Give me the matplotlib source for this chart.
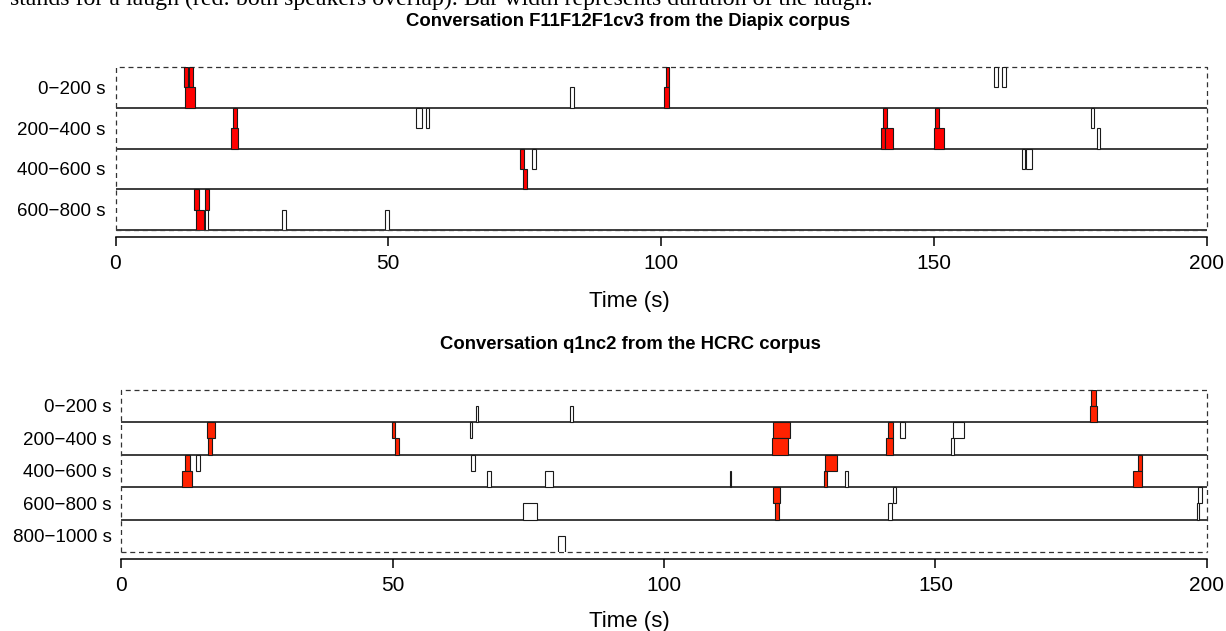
import numpy as np
import matplotlib
matplotlib.use('Agg')
import matplotlib.pyplot as plt

plt.rcParams['font.family'] = ['Liberation Sans', 'DejaVu Sans']

# laughs, Diapix conversation: start/end in s, speaker (0 = upper half, 1 = lower half), both = overlap
dpx_start = [12.6, 13.5, 12.8, 83.4, 100.9, 100.5, 161.0, 162.5,
             221.5, 221.1, 255.1, 256.9, 340.75, 340.3, 341.0, 350.3, 350.0, 378.75, 379.9,
             474.2, 476.4, 474.65, 566.2, 567.0,
             614.3, 616.4, 614.8, 616.4, 630.6, 649.4]
dpx_end = [13.2, 14.2, 14.5, 84.1, 101.4, 101.5, 161.7, 163.2,
           222.2, 222.5, 256.2, 257.5, 341.4, 341.0, 342.5, 350.9, 351.8, 379.3, 380.4,
           474.8, 477.0, 475.4, 566.7, 568.1,
           615.3, 617.2, 616.25, 616.9, 631.2, 650.1]
dpx_spk = [0, 0, 1, 1, 0, 1, 0, 0,
           0, 1, 0, 0, 0, 1, 1, 0, 1, 0, 1,
           0, 0, 1, 0, 0,
           0, 0, 1, 1, 1, 1]
dpx_both = [1, 1, 1, 0, 1, 1, 0, 0,
            1, 1, 0, 0, 1, 1, 1, 1, 1, 0, 0,
            1, 0, 1, 0, 0,
            1, 1, 1, 0, 0, 0]
dpx_rows = ['0\u2212200 s', '200\u2212400 s', '400\u2212600 s', '600\u2212800 s']

# laughs, HCRC conversation
hcrc_start = [65.3, 82.6, 178.6, 178.4,
              215.7, 215.9, 249.9, 250.4, 264.2, 320.1, 319.8, 341.2, 340.96, 343.4, 353.2, 352.9,
              411.75, 413.8, 411.1, 464.5, 467.4, 478.1, 512.1, 529.6, 529.4, 533.4, 587.3, 586.4,
              674.0, 720.1, 720.4, 742.1, 741.3, 798.4, 798.2,
              880.5]
hcrc_end = [65.8, 83.2, 179.6, 179.85,
            217.2, 216.7, 250.4, 251.2, 264.6, 323.2, 322.9, 342.1, 342.1, 344.3, 355.2, 353.4,
            412.6, 414.4, 413.0, 465.2, 468.1, 479.6, 512.3, 531.8, 530.1, 533.9, 588.1, 588.0,
            676.5, 721.4, 721.2, 742.7, 742.0, 799.1, 798.5,
            881.75]
hcrc_spk = [1, 1, 0, 1,
            0, 1, 0, 1, 0, 0, 1, 0, 1, 0, 0, 1,
            0, 0, 1, 0, 1, 1, 1, 0, 1, 1, 0, 1,
            1, 0, 1, 0, 1, 0, 1,
            1]
hcrc_both = [0, 0, 1, 1,
             1, 1, 1, 1, 0, 1, 1, 1, 1, 0, 0, 0,
             1, 0, 1, 0, 0, 0, 0, 1, 1, 0, 1, 1,
             0, 1, 1, 0, 0, 0, 0,
             0]
hcrc_rows = ['0\u2212200 s', '200\u2212400 s', '400\u2212600 s', '600\u2212800 s', '800\u22121000 s']

W, H = 1226, 631
fig = plt.figure(figsize=(W / 100, H / 100), dpi=100)

# caption line cut off at the top of the page
fig.text(10.5 / W, 1 - 5 / H, 'stands for a laugh (red: both speakers overlap). Bar width represents duration of the laugh.',
         family=['Liberation Serif', 'DejaVu Serif'], fontsize=17.2, va='baseline', ha='left')


def draw_conv(ax, start, end, spk, both, rows, n_lines, red):
    n = len(rows)
    start = np.array(start)
    end = np.array(end)
    row = (start // 200).astype(int)
    x = start - row * 200
    bottom = -row - 0.5 - 0.5 * np.array(spk)
    cols = [red if b else 'white' for b in both]
    ax.bar(x, 0.5, width=end - start, bottom=bottom, align='edge',
           color=cols, edgecolor='#1a1a1a', linewidth=0.8, zorder=3)
    for i in range(n_lines):
        ax.plot([0, 200], [-(i + 1), -(i + 1)], color='#3c3c3c', lw=1.4, zorder=2,
                solid_capstyle='butt', clip_on=False)
    # dashed frame
    ax.plot([0, 0, 200, 200], [-n, 0, 0, -n], color='#333333', lw=0.9,
            ls=(0, (4, 3)), clip_on=False, zorder=1)
    ax.plot([0, 200], [-n, -n], color='#333333', lw=0.9, ls=(0, (4, 3)), clip_on=False, zorder=1)
    ax.set_xlim(0, 200)
    ax.set_ylim(-n, 0)
    for s in ['top', 'left', 'right']:
        ax.spines[s].set_visible(False)
    ax.spines['bottom'].set_position(('outward', 5))
    ax.spines['bottom'].set_bounds(0, 200)
    ax.spines['bottom'].set_linewidth(1.1)
    ax.set_xticks([0, 50, 100, 150, 200])
    ax.tick_params(axis='x', length=6.5, width=1.1, pad=6, labelsize=15)
    ax.set_yticks([-(i + 0.5) for i in range(n)])
    ax.set_yticklabels(rows)
    ax.tick_params(axis='y', length=0, pad=7, labelsize=13.5)


ax1 = fig.add_axes([115.5 / W, 1 - 230 / H, 1091 / W, 163 / H])
draw_conv(ax1, dpx_start, dpx_end, dpx_spk, dpx_both, dpx_rows, 4, '#ff0000')
fig.text(628 / W, 1 - 22 / H, 'Conversation F11F12F1cv3 from the Diapix corpus',
         fontsize=13.3, fontweight='bold', ha='center', va='center')
fig.text(629 / W, 1 - 301.7 / H, 'Time (s)', fontsize=16, ha='center', va='center')

ax2 = fig.add_axes([121.4 / W, 1 - 552 / H, 1085.4 / W, 162.4 / H])
draw_conv(ax2, hcrc_start, hcrc_end, hcrc_spk, hcrc_both, hcrc_rows, 4, '#ff2200')
fig.text(630 / W, 1 - 344 / H, 'Conversation q1nc2 from the HCRC corpus',
         fontsize=13.3, fontweight='bold', ha='center', va='center')
fig.text(629 / W, 1 - 621.7 / H, 'Time (s)', fontsize=16, ha='center', va='center')

fig.savefig('out.png', dpi=100)
